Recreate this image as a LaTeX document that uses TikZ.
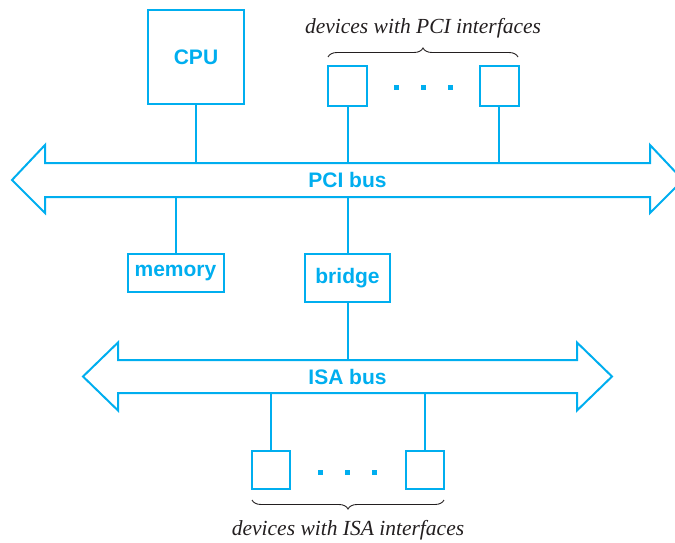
\documentclass[tikz,border=0pt]{standalone}
\usepackage{fontspec}
\setmainfont{Liberation Serif}
\newfontfamily\hfont{Liberation Sans}
\usetikzlibrary{decorations.pathreplacing}
\definecolor{bcyan}{RGB}{0,174,239}
\definecolor{txtgray}{RGB}{35,31,32}
\begin{document}
\begin{tikzpicture}[x=1pt,y=-1pt,
  wire/.style={draw=bcyan,line width=2pt},
  box/.style={draw=bcyan,line width=2pt,inner sep=0pt,font=\hfont\bfseries\fontsize{21}{25}\selectfont,text=bcyan},
  buslbl/.style={inner sep=0pt,font=\hfont\bfseries\fontsize{21}{25}\selectfont,text=bcyan},
  dot/.style={fill=bcyan,draw=none,minimum size=5pt,inner sep=0pt},
  brc/.style={draw=txtgray,line width=0.9pt,decorate,decoration={brace,amplitude=9pt}},
  itl/.style={font=\itshape\fontsize{21.5}{25}\selectfont,text=txtgray,inner sep=0pt}]
\useasboundingbox (0,0) rectangle (675,543);
% PCI bus arrow
\draw[wire] (12,180) -- (45,145) -- (45,163) -- (650,163) -- (650,145) -- (683,180)
  -- (650,213) -- (650,197) -- (45,197) -- (45,213) -- cycle;
\node[buslbl,minimum width=605pt,minimum height=34pt] (pci) at (347.5,180) {PCI bus};
% ISA bus arrow
\draw[wire] (83,376.5) -- (118,342.5) -- (118,360) -- (577,360) -- (577,342.5) -- (612,376.5)
  -- (577,410.5) -- (577,393) -- (118,393) -- (118,410.5) -- cycle;
\node[buslbl,minimum width=459pt,minimum height=33pt] (isa) at (347.5,376.5) {ISA bus};
% boxes
\node[box,minimum width=96pt,minimum height=94pt] (cpu) at (196,57) {CPU};
\node[box,minimum width=39pt,minimum height=39pt] (pd1) at (347.5,86) {};
\node[box,minimum width=39pt,minimum height=39pt] (pd2) at (499,86) {};
\node[box,minimum width=96pt,minimum height=38pt] (mem) at (175.5,273) {memory};
\node[box,minimum width=85pt,minimum height=48pt] (bridge) at (347.5,278) {bridge};
\node[box,minimum width=38pt,minimum height=38pt] (id1) at (271,470) {};
\node[box,minimum width=38pt,minimum height=38pt] (id2) at (424.5,470) {};
% dots
\node[dot] (pa) at (396,88) {};
\node[dot] (pb) at (423,88) {};
\node[dot] (pc) at (450,88) {};
\node[dot] (ia) at (320,472) {};
\node[dot] (ib) at (347,472) {};
\node[dot] (ic) at (374,472) {};
% connectors
\draw[wire] (cpu.south) -- (cpu.south |- pci.north);
\draw[wire] (pd1.south) -- (pd1.south |- pci.north);
\draw[wire] (pd2.south) -- (pd2.south |- pci.north);
\draw[wire] (mem.north) -- (mem.north |- pci.south);
\draw[wire] (bridge.north) -- (bridge.north |- pci.south);
\draw[wire] (bridge.south) -- (bridge.south |- isa.north);
\draw[wire] (id1.north) -- (id1.north |- isa.south);
\draw[wire] (id2.north) -- (id2.north |- isa.south);
% braces and labels
\coordinate (b1l) at (328,57);
\coordinate (b1r) at (518,57);
\draw[brc] (b1l) -- (b1r);
\node[itl] (pcilbl) at (423,28) {devices with PCI interfaces};
\coordinate (b2l) at (252,500);
\coordinate (b2r) at (444,500);
\draw[brc] (b2r) -- (b2l);
\node[itl] (isalbl) at (348,530) {devices with ISA interfaces};
\end{tikzpicture}
\end{document}
